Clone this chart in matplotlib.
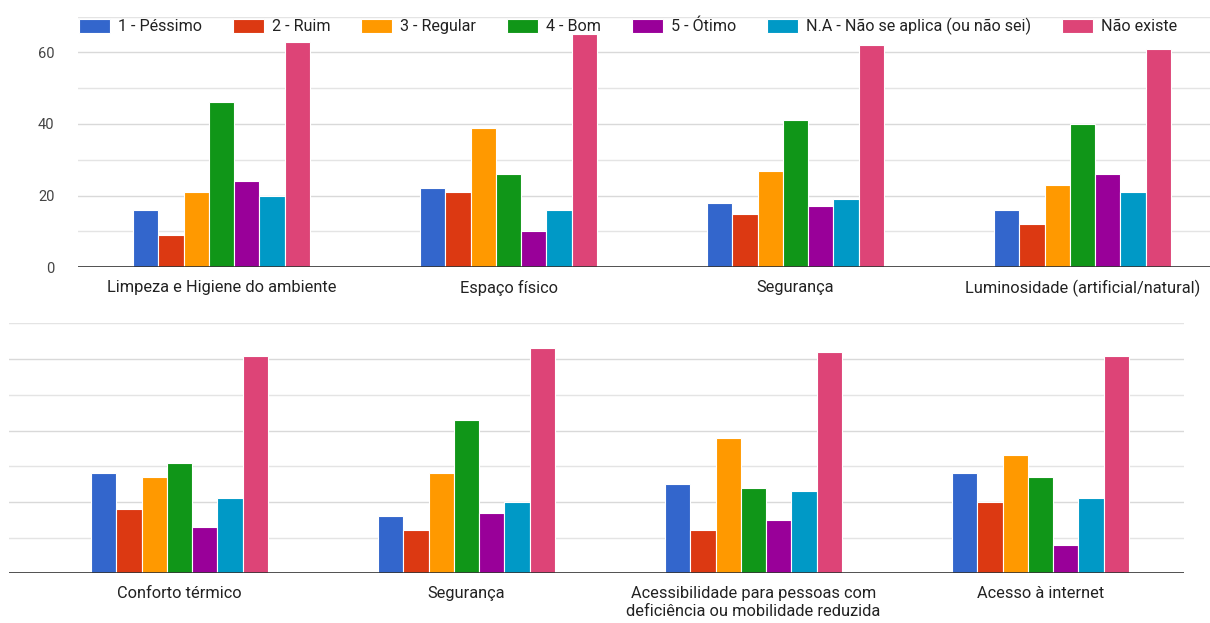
import matplotlib
matplotlib.use("Agg")
import matplotlib.pyplot as plt
import numpy as np

plt.rcParams['font.family'] = ['Roboto', 'DejaVu Sans']

series = ["1 - Péssimo", "2 - Ruim", "3 - Regular", "4 - Bom", "5 - Ótimo",
          "N.A - Não se aplica (ou não sei)", "Não existe"]
colors = ["#3366cc", "#dc3912", "#ff9900", "#109618", "#990099", "#0099c6", "#dd4477"]

top_categories = ["Limpeza e Higiene do ambiente", "Espaço físico", "Segurança",
                  "Luminosidade (artificial/natural)"]
top_values = [
    [16, 22, 18, 16],   # 1 - Péssimo
    [9, 21, 15, 12],    # 2 - Ruim
    [21, 39, 27, 23],   # 3 - Regular
    [46, 26, 41, 40],   # 4 - Bom
    [24, 10, 17, 26],   # 5 - Ótimo
    [20, 16, 19, 21],   # N.A
    [63, 65, 62, 61],   # Não existe
]

bottom_categories = ["Conforto térmico", "Segurança",
                     "Acessibilidade para pessoas com\ndeficiência ou mobilidade reduzida",
                     "Acesso à internet"]
bottom_values = [
    [28, 16, 25, 28],
    [18, 12, 12, 20],
    [27, 28, 38, 33],
    [31, 43, 24, 27],
    [13, 17, 15, 8],
    [21, 20, 23, 21],
    [61, 63, 62, 61],
]

y_ticks = [0, 20, 40, 60]

W, H = 1210, 623
fig = plt.figure(figsize=(W / 100, H / 100), dpi=100)

def px_axes(left, right, top, bottom):
    return fig.add_axes([left / W, 1 - bottom / H, (right - left) / W, (bottom - top) / H])

pitch = 287.0
bw = 25.3 / pitch

def draw(ax, cats, vals, show_y):
    x = np.arange(len(cats))
    n = len(vals)
    for i, (v, c) in enumerate(zip(vals, colors)):
        ax.bar(x + (i - (n - 1) / 2) * bw, v, width=bw, color=c,
               edgecolor="white", linewidth=0.8, zorder=3, label=series[i])
    ax.set_ylim(0, 70)
    for g in range(10, 71, 10):
        ax.axhline(g, color="#e4e4e4" if g % 20 else "#d9d9d9", linewidth=1, zorder=1)
    ax.axhline(0, color="#333333", linewidth=1.2, zorder=4)
    for s in ax.spines.values():
        s.set_visible(False)
    ax.set_xticks(x)
    ax.set_xticklabels(cats, fontsize=11.8, color="#222222", linespacing=1.3)
    ax.tick_params(axis="x", length=0, pad=9)
    if show_y:
        ax.set_yticks(y_ticks)
        ax.set_yticklabels([str(t) for t in y_ticks], fontsize=10.5, color="#444444")
        ax.tick_params(axis="y", length=0, pad=17)
    else:
        ax.set_yticks([])

# Top chart
ax1 = px_axes(78, 1210, 16.5, 267.3)
draw(ax1, top_categories, top_values, True)
ax1.set_xlim((78 - 221.5) / pitch, (1210 - 221.5) / pitch)

# Bottom chart
ax2 = px_axes(9, 1184, 323.4, 573.3)
draw(ax2, bottom_categories, bottom_values, False)
ax2.set_xlim((9 - 179.5) / pitch, (1184 - 179.5) / pitch)

# Legend
handles, labels = ax1.get_legend_handles_labels()
leg = fig.legend(handles, labels, loc="center left", bbox_to_anchor=(79 / W, 1 - 26.7 / H),
                 ncol=7, frameon=False, fontsize=11.6, handlelength=1.92, handleheight=0.93,
                 handletextpad=0.5, columnspacing=1.92, borderaxespad=0, borderpad=0)
for t in leg.get_texts():
    t.set_color("#222222")

fig.savefig("out.png", dpi=100, facecolor="white")
